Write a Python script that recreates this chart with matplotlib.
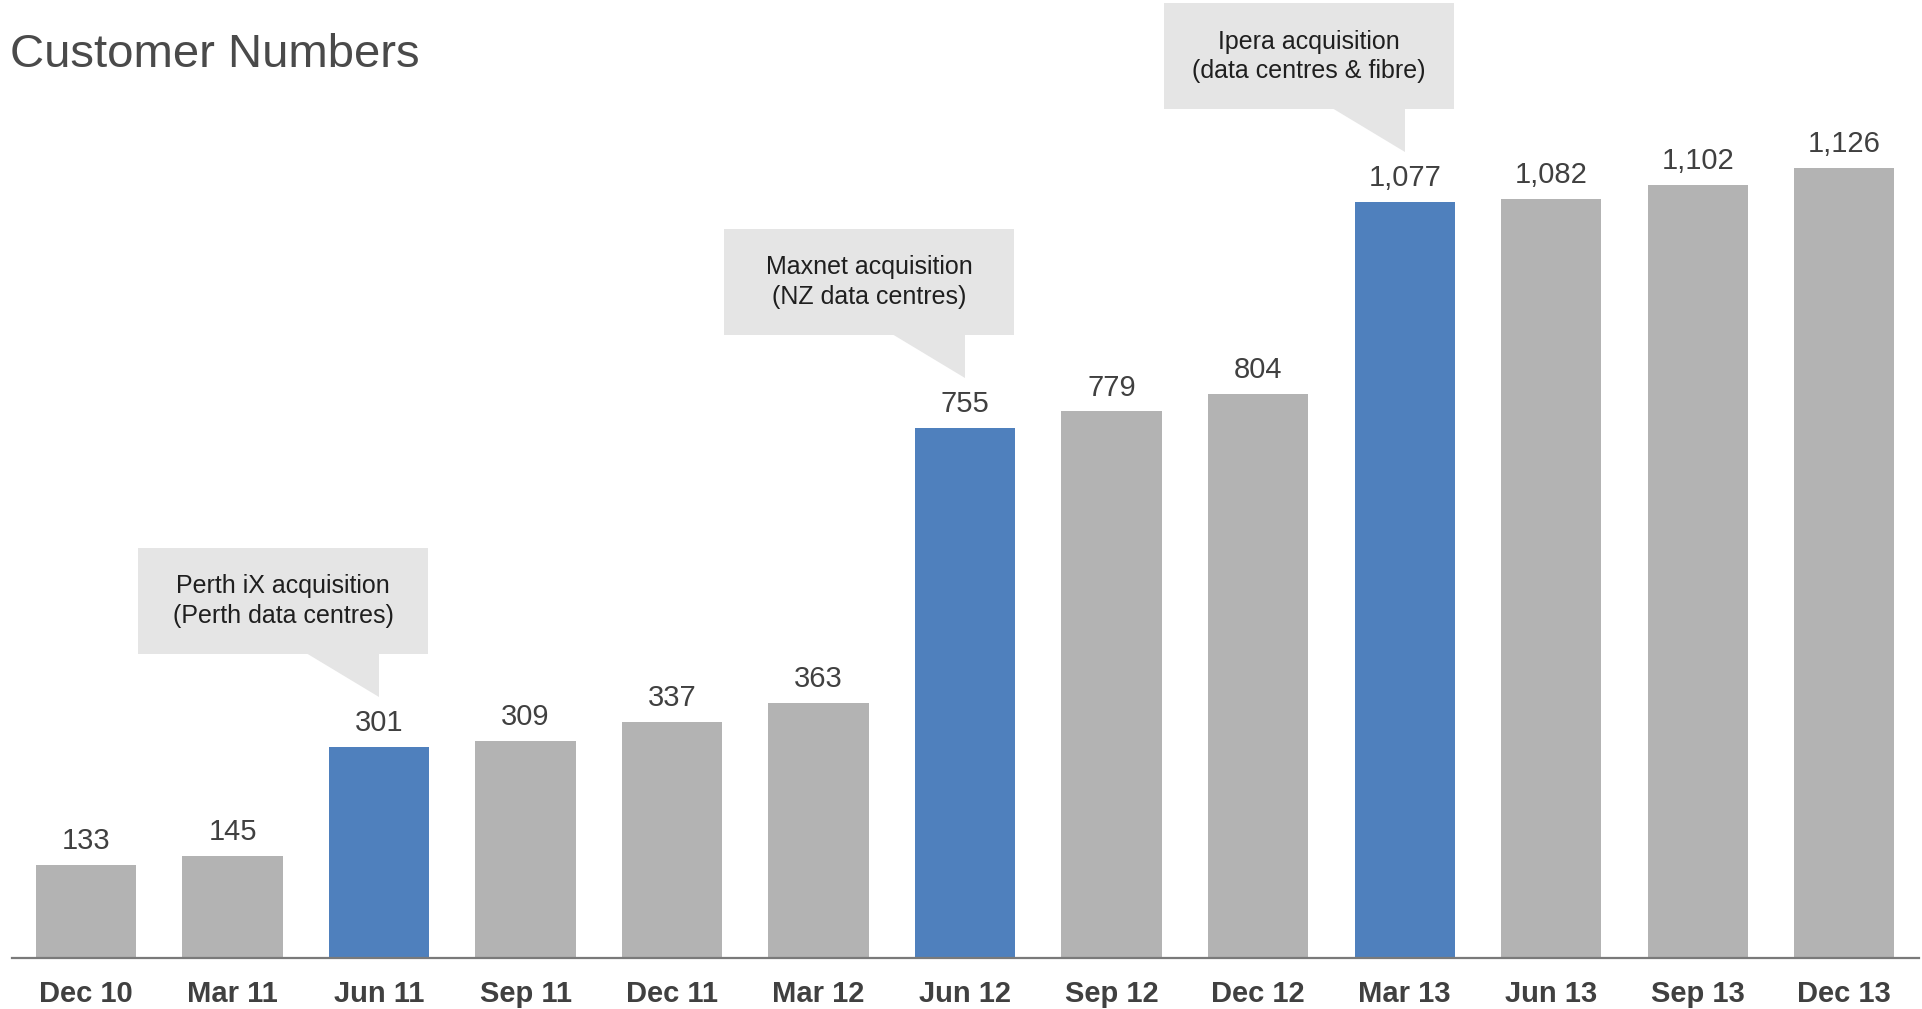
import matplotlib
matplotlib.use("Agg")
import matplotlib.pyplot as plt
from matplotlib.patches import Polygon, Rectangle

plt.rcParams['font.family'] = ['Liberation Sans', 'DejaVu Sans']

quarters = ["Dec 10", "Mar 11", "Jun 11", "Sep 11", "Dec 11", "Mar 12", "Jun 12",
            "Sep 12", "Dec 12", "Mar 13", "Jun 13", "Sep 13", "Dec 13"]
customers = [133, 145, 301, 309, 337, 363, 755, 779, 804, 1077, 1082, 1102, 1126]
acquisitions = {
    "Jun 11": "Perth iX acquisition\n(Perth data centres)",
    "Jun 12": "Maxnet acquisition\n(NZ data centres)",
    "Mar 13": "Ipera acquisition\n(data centres & fibre)",
}

GREY = "#b3b3b3"
BLUE = "#4f80bd"
TEXT = "#404040"
CALLOUT = "#e5e5e5"

W, H = 1922, 1009
fig = plt.figure(figsize=(W / 100, H / 100), dpi=100)
ax = fig.add_axes([12 / W, (H - 958) / H, (1919 - 12) / W, 958 / H])

ymax = 1365.5
ax.set_xlim(-0.505, len(quarters) - 0.49)
ax.set_ylim(0, ymax)

# pixel -> data unit conversions for the callouts
px_x = (len(quarters) - 0.49 + 0.505) / (1919 - 12)
px_y = ymax / 958

colors = [BLUE if q in acquisitions else GREY for q in quarters]
x = range(len(quarters))
ax.bar(x, customers, width=0.685, color=colors, zorder=2)

for i, v in enumerate(customers):
    ax.annotate(f"{v:,}", (i, v), xytext=(0, 11.5), textcoords="offset points",
                ha="center", va="baseline", fontsize=21, color=TEXT)

for i, q in enumerate(quarters):
    if q not in acquisitions:
        continue
    v = customers[i]
    tip_y = v + 50 * px_y
    box_bottom = tip_y + 43 * px_y
    box_h = 106 * px_y
    left = i - 241 * px_x
    right = i + 49 * px_x
    ax.add_patch(Rectangle((left, box_bottom), right - left, box_h,
                           facecolor=CALLOUT, edgecolor="none", clip_on=False, zorder=3))
    ax.add_patch(Polygon([(i - 73 * px_x, box_bottom + 1 * px_y), (i, box_bottom + 1 * px_y),
                          (i, tip_y)], closed=True, facecolor=CALLOUT,
                         edgecolor="none", clip_on=False, zorder=3))
    ax.text((left + right) / 2, box_bottom + box_h / 2, acquisitions[q],
            ha="center", va="center", fontsize=18, color="#1f1f1f",
            linespacing=1.3, zorder=4)

ax.set_xticks(list(x))
ax.set_xticklabels(quarters, fontsize=21, fontweight="bold", color=TEXT)
ax.tick_params(axis="x", length=0, pad=16)
ax.set_yticks([])
for side in ["top", "left", "right"]:
    ax.spines[side].set_visible(False)
ax.spines["bottom"].set_color("#7a7a7a")
ax.spines["bottom"].set_linewidth(1.6)
ax.spines["bottom"].set_zorder(5)

fig.text(10 / W, 1 - 67 / H, "Customer Numbers", fontsize=34, color="#4a4a4a",
         ha="left", va="baseline")

fig.savefig("out.png", dpi=100)
